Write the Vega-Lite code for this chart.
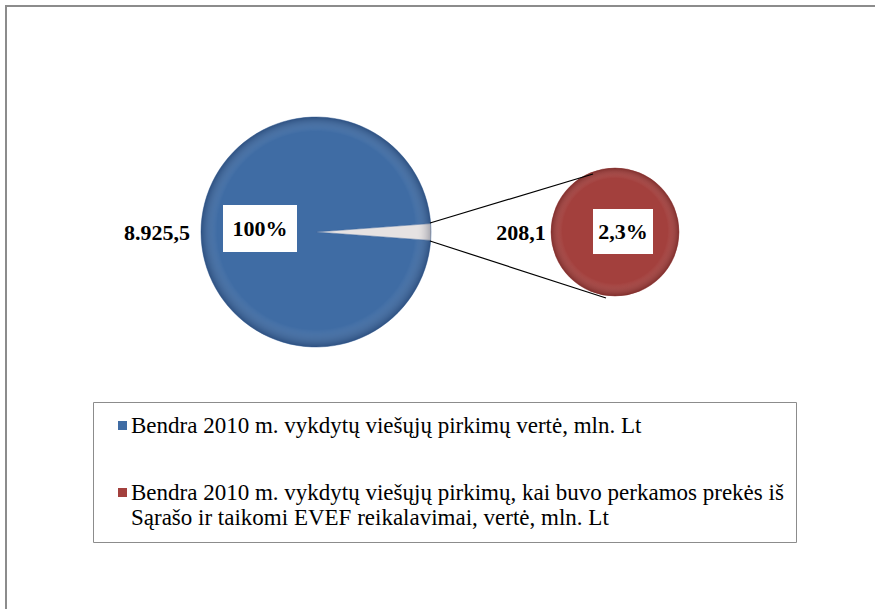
{
  "$schema": "https://vega.github.io/schema/vega-lite/v6.json",
  "width": 869,
  "height": 603,
  "autosize": {"type": "none"},
  "padding": {"left": 6, "top": 6, "right": 0, "bottom": 0},
  "background": "white",
  "config": {
    "view": {"stroke": "#8c8c8c", "strokeWidth": 2, "strokeDash": [869, 1472, 610]},
    "font": "Liberation Serif",
    "text": {"font": "Liberation Serif", "fontSize": 22, "fontWeight": "bold", "baseline": "middle", "color": "black"}
  },
  "datasets": {
    "total": [
      {"pie": "Bendra", "part": "kiti", "series": "Bendra 2010 m. vykdytų viešųjų pirkimų vertė, mln. Lt", "value": 8717.4},
      {"pie": "Bendra", "part": "EVEF", "series": "Bendra 2010 m. vykdytų viešųjų pirkimų, kai buvo perkamos prekės iš Sąrašo ir taikomi EVEF reikalavimai, vertė, mln. Lt", "value": 208.1}
    ],
    "evef": [
      {"pie": "Sąrašas", "part": "EVEF", "series": "Bendra 2010 m. vykdytų viešųjų pirkimų, kai buvo perkamos prekės iš Sąrašo ir taikomi EVEF reikalavimai, vertė, mln. Lt", "value": 208.1}
    ],
    "link": [{"from": "Bendra", "to": "Sąrašas"}],
    "bigLabel": [{"pie": "Bendra", "amount": "8.925,5", "share": "100%"}],
    "smallLabel": [{"pie": "Sąrašas", "amount": "208,1", "share": "2,3%"}]
  },
  "encoding": {
    "x": {"field": "pie", "type": "nominal", "scale": {"type": "point", "domain": ["Bendra", "Sąrašas"], "range": [310, 609], "padding": 0}, "axis": null},
    "y": {"field": "pie", "type": "nominal", "scale": {"type": "point", "domain": ["Bendra", "Sąrašas"], "range": [226, 226], "padding": 0}, "axis": null}
  },
  "layer": [
    {
      "data": {"name": "total"},
      "mark": {"type": "arc", "outerRadius": 115, "stroke": "#3a659c", "strokeWidth": 0.5},
      "encoding": {
        "theta": {"field": "value", "type": "quantitative", "stack": true, "scale": {"domain": [0, 8925.5], "range": [1.4975, 7.7807]}},
        "order": {"field": "value", "type": "quantitative", "sort": "ascending"},
        "color": {
          "condition": {"test": "datum.part === 'EVEF'", "value": "#E6E2E2"},
          "field": "series", "type": "nominal",
          "scale": {
            "domain": ["Bendra 2010 m. vykdytų viešųjų pirkimų vertė, mln. Lt", "Bendra 2010 m. vykdytų viešųjų pirkimų, kai buvo perkamos prekės iš Sąrašo ir taikomi EVEF reikalavimai, vertė, mln. Lt"],
            "range": ["#3F6CA4", "#A3403D"]
          },
          "legend": {
            "orient": "none", "legendX": 87, "legendY": 396, "direction": "vertical", "title": null,
            "symbolType": "square", "symbolSize": 81, "symbolStrokeWidth": 0, "symbolOffset": 6,
            "labelFont": "Liberation Serif", "labelFontSize": 23, "labelColor": "black", "labelLimit": 1000, "labelOffset": -3,
            "labelExpr": "split(replace(datum.label, 'iš Sąrašo', 'iš|Sąrašo'), '|')",
            "strokeColor": "#8c8c8c", "fillColor": "white", "padding": 12, "rowPadding": 43
          }
        }
      }
    },
    {
      "data": {"name": "evef"},
      "mark": {"type": "arc", "outerRadius": 64, "stroke": "#9a3a38", "strokeWidth": 0.5},
      "encoding": {
        "theta": {"field": "value", "type": "quantitative", "stack": true, "scale": {"domain": [0, 208.1], "range": [0, 6.2832]}},
        "color": {"field": "series", "type": "nominal"}
      }
    },
    {
      "data": {"name": "bigLabel"},
      "mark": {"type": "arc", "outerRadius": 115, "fill": {"gradient": "radial", "x1": 0.5, "y1": 0.45, "r1": 0, "x2": 0.5, "y2": 0.5, "r2": 0.5, "stops": [{"offset": 0, "color": "rgba(255,255,255,0)"}, {"offset": 0.86, "color": "rgba(255,255,255,0)"}, {"offset": 1, "color": "rgba(0,10,40,0.28)"}]}}
    },
    {
      "data": {"name": "smallLabel"},
      "mark": {"type": "arc", "outerRadius": 64, "fill": {"gradient": "radial", "x1": 0.5, "y1": 0.45, "r1": 0, "x2": 0.5, "y2": 0.5, "r2": 0.5, "stops": [{"offset": 0, "color": "rgba(255,255,255,0)"}, {"offset": 0.82, "color": "rgba(255,255,255,0)"}, {"offset": 1, "color": "rgba(40,0,0,0.28)"}]}}
    },
    {
      "data": {"name": "link"},
      "mark": {"type": "rule", "color": "black", "strokeWidth": 1.2, "xOffset": 114, "yOffset": -9, "x2Offset": -22, "y2Offset": -58},
      "encoding": {
        "x": {"field": "from", "type": "nominal"},
        "x2": {"field": "to"},
        "y": {"field": "from", "type": "nominal"},
        "y2": {"field": "to"}
      }
    },
    {
      "data": {"name": "link"},
      "mark": {"type": "rule", "color": "black", "strokeWidth": 1.2, "xOffset": 114, "yOffset": 9, "x2Offset": -9, "y2Offset": 66},
      "encoding": {
        "x": {"field": "from", "type": "nominal"},
        "x2": {"field": "to"},
        "y": {"field": "from", "type": "nominal"},
        "y2": {"field": "to"}
      }
    },
    {
      "data": {"name": "bigLabel"},
      "mark": {"type": "rect", "fill": "white", "width": 74, "height": 47, "xOffset": -56, "yOffset": -3.5}
    },
    {
      "data": {"name": "smallLabel"},
      "mark": {"type": "rect", "fill": "white", "width": 60, "height": 45, "xOffset": 8, "yOffset": -0.5}
    },
    {
      "data": {"name": "bigLabel"},
      "mark": {"type": "text", "dx": -56, "dy": -3},
      "encoding": {"text": {"field": "share"}}
    },
    {
      "data": {"name": "bigLabel"},
      "mark": {"type": "text", "dx": -159, "dy": 1},
      "encoding": {"text": {"field": "amount"}}
    },
    {
      "data": {"name": "smallLabel"},
      "mark": {"type": "text", "dx": 8, "dy": 0},
      "encoding": {"text": {"field": "share"}}
    },
    {
      "data": {"name": "smallLabel"},
      "mark": {"type": "text", "dx": -94, "dy": 1},
      "encoding": {"text": {"field": "amount"}}
    }
  ],
  "resolve": {"scale": {"theta": "independent"}}
}
